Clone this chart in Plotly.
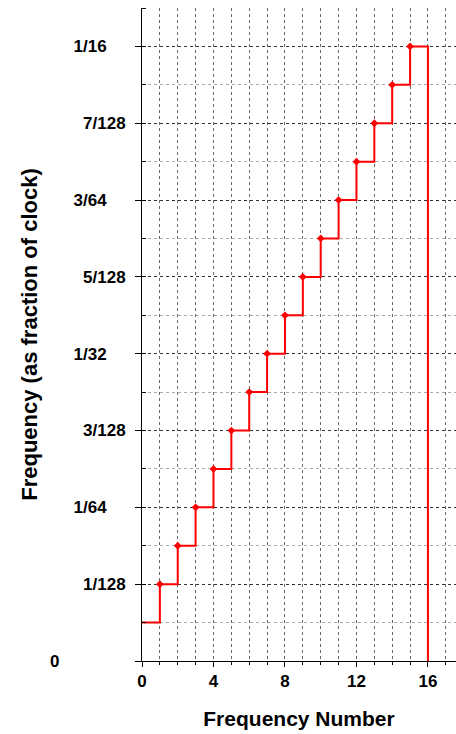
import plotly.graph_objects as go

# Frequency number (0..16) and the output frequency at each, in units of clock/256
freq_number = list(range(17))
freq_256ths = [1, 2, 3, 4, 5, 6, 7, 8, 9, 10, 11, 12, 13, 14, 15, 16, 0]
frequency = [v / 256 for v in freq_256ths]

# Y tick positions (multiples of 1/128) and their labels
ytick_vals = [k / 128 for k in range(9)]
ytick_text = ["0", "1/128", "1/64", "3/128", "1/32", "5/128", "3/64", "7/128", "1/16"]

NB = "\u00a0"
# pad labels so that they sit like a left-aligned column
def pad(t):
    if t == "0":
        return t + NB * 14
    if len(t) == 4:
        return t + NB * 4
    return t

font_family = "Liberation Sans, Arial, sans-serif"

fig = go.Figure()
fig.add_trace(go.Scatter(
    x=freq_number, y=frequency, mode="lines", line_shape="hv",
    line=dict(color="#ff0000", width=2), hoverinfo="skip", showlegend=False,
))
fig.add_trace(go.Scatter(
    x=freq_number[1:16], y=frequency[1:16], mode="markers",
    marker=dict(symbol="diamond", size=6, color="#ff0000"),
    showlegend=False,
))

fig.update_layout(
    width=456, height=734,
    margin=dict(l=142, r=0, t=8, b=73),
    paper_bgcolor="white", plot_bgcolor="white",
    font=dict(family=font_family, color="black"),
)
fig.update_xaxes(
    range=[0, 17.57], tickmode="array", tickvals=[0, 4, 8, 12, 16],
    tickfont=dict(size=17, family=font_family, weight="bold"),
    ticks="outside", ticklen=5, tickcolor="black",
    showline=True, linecolor="black", linewidth=1,
    showgrid=True, gridcolor="#666", griddash="dot", gridwidth=1,
    minor=dict(dtick=1, tick0=0, showgrid=True, gridcolor="#666", griddash="dot",
               ticks="outside", ticklen=3, tickcolor="black"),
    title=dict(text="Frequency Number", font=dict(size=21, weight="bold"), standoff=20),
    zeroline=False,
)
fig.update_yaxes(
    range=[0, 17 / 256], tickmode="array", tickvals=ytick_vals,
    ticktext=[pad(t) for t in ytick_text],
    tickfont=dict(size=17, family=font_family, weight="bold"),
    ticks="outside", ticklen=6, tickcolor="black", ticklabelstandoff=6,
    showline=True, linecolor="black", linewidth=1,
    showgrid=True, gridcolor="#333", griddash="dot", gridwidth=1,
    minor=dict(dtick=1 / 256, tick0=0, showgrid=True, gridcolor="#aaa", griddash="dot",
               ticks="inside", ticklen=4, tickcolor="black"),
    title=dict(text="Frequency (as fraction of clock)", font=dict(size=22, weight="bold"),
               standoff=6),
    zeroline=False,
)

fig.write_html("out.html")
